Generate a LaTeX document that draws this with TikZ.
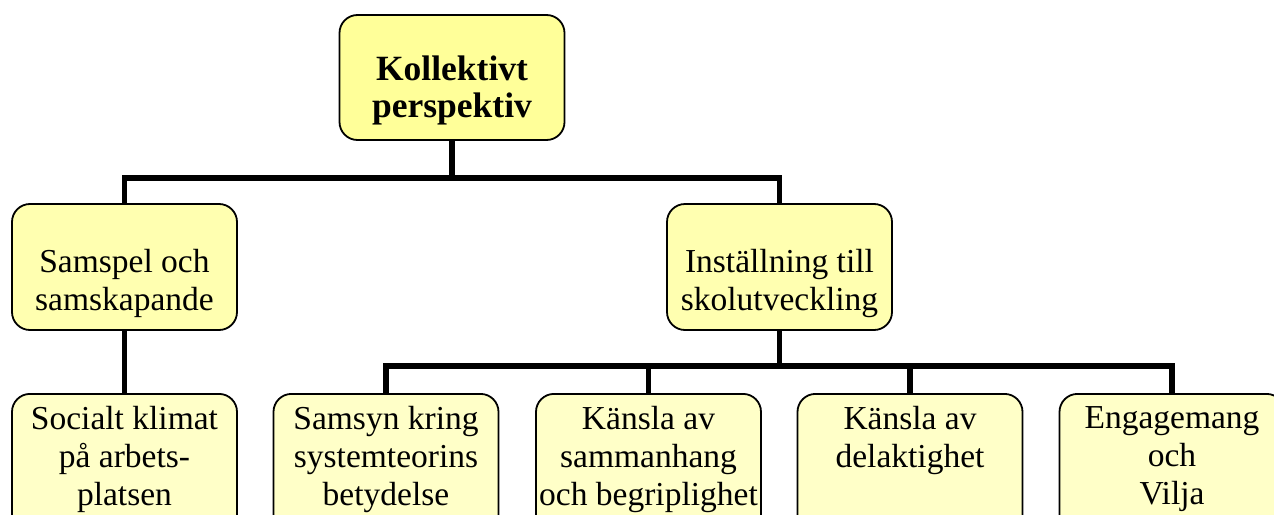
\documentclass[tikz,border=0pt]{standalone}
\usepackage{fontspec}
\setmainfont{Liberation Serif}
\begin{document}
\begin{tikzpicture}[x=1pt,y=-1pt,
  box/.style={draw=black, line width=1.8pt, rounded corners=18pt,
    minimum width=225pt, inner sep=0pt},
  topbox/.style={box, fill=topfill, minimum height=125pt},
  midbox/.style={box, fill=midfill, minimum height=126pt},
  botbox/.style={box, fill=botfill, minimum height=140pt, anchor=north},
  toptext/.style={inner sep=0pt, align=center,
    font=\fontsize{35.5}{37}\selectfont\bfseries},
  midtext/.style={inner sep=0pt, align=center,
    font=\fontsize{33.5}{38}\selectfont},
  bottext/.style={anchor=north, inner sep=0pt, align=center,
    font=\fontsize{33.5}{38}\selectfont, execute at begin node=\strut},
  conn/.style={draw=black, line width=5.5pt}
]
\definecolor{topfill}{HTML}{FFFF99}
\definecolor{midfill}{HTML}{FFFFB0}
\definecolor{botfill}{HTML}{FFFFC8}
\useasboundingbox (0,0) rectangle (1274,514);
\clip (0,0) rectangle (1274,514);

% root
\node[topbox] (root) at (452,77.5) {};
\node[toptext] (rootT) at ([yshift=-13pt]root.center) {Kollektivt\\perspektiv};

% second level
\node[midbox] (samspel) at (124.5,267) {};
\node[midbox] (install) at (779.5,267) {};
\node[midtext] (samspelT) at ([yshift=-16pt]samspel.center) {Samspel och\\samskapande};
\node[midtext] (installT) at ([yshift=-16pt]install.center) {Inställning till\\skolutveckling};

% third level boxes
\node[botbox] (social)  at (124.5,393) {};
\node[botbox] (samsyn)  at (386,393) {};
\node[botbox] (kasam)   at (648.5,393) {};
\node[botbox] (delakt)  at (910,393) {};
\node[botbox] (engag)   at (1172,393) {};

% third level texts, top aligned
\node[bottext] (socialT) at ([yshift=-13pt]social.north) {Socialt klimat\\på arbets-\\platsen};
\node[bottext] (samsynT) at ([yshift=-13pt]samsyn.north) {Samsyn kring\\systemteorins\\betydelse};
\node[bottext] (kasamT)  at ([yshift=-13pt]kasam.north) {Känsla av\\sammanhang\\och begriplighet};
\node[bottext] (delaktT) at ([yshift=-13pt]delakt.north) {Känsla av\\delaktighet};
\node[bottext] (engagT)  at ([yshift=-13pt]engag.north) {Engagemang\\och\\Vilja};

% bus junctions
\coordinate (busA) at (452,178);
\coordinate (busB) at (779.5,366);

% connectors
\draw[conn] (root.south) -- (busA) -| (samspel.north);
\draw[conn] (busA) -| (install.north);
\draw[conn] (samspel.south) -- (social.north);
\draw[conn] (install.south) -- (busB) -| (samsyn.north);
\draw[conn] (busB) -| (engag.north);
\draw[conn] (kasam.north |- busB) -- (kasam.north);
\draw[conn] (delakt.north |- busB) -- (delakt.north);
\end{tikzpicture}
\end{document}
